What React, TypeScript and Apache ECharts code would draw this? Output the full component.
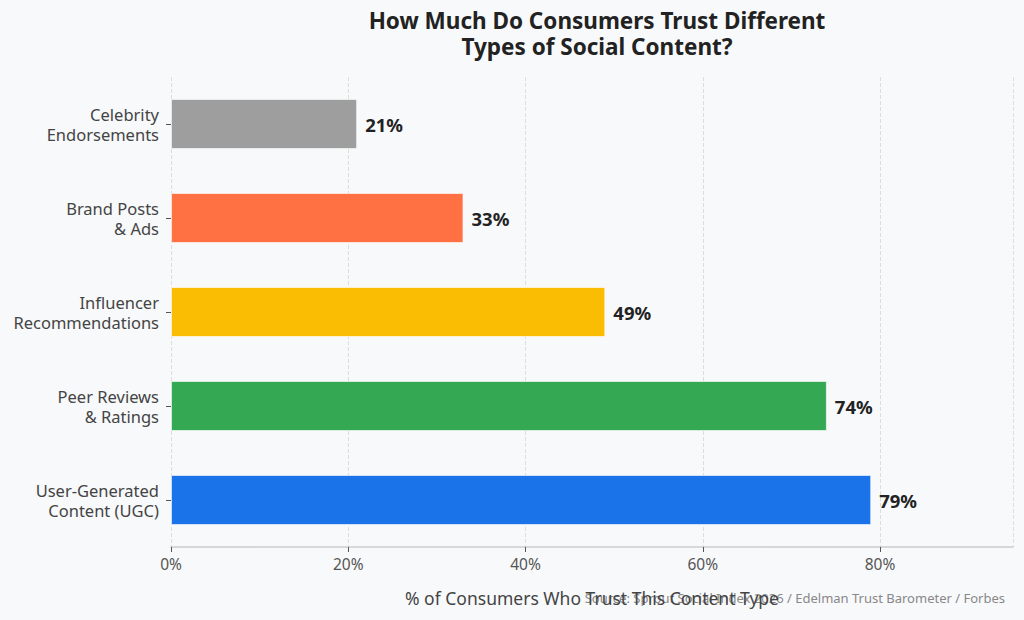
import { useEffect, useRef } from 'react';
import * as echarts from 'echarts';

const categories = [
  'User-Generated\nContent (UGC)',
  'Peer Reviews\n& Ratings',
  'Influencer\nRecommendations',
  'Brand Posts\n& Ads',
  'Celebrity\nEndorsements',
];
const trustValues = [79, 74, 49, 33, 21];
const barColors = ['#1a73e8', '#34a853', '#fbbc04', '#ff7043', '#9e9e9e'];
const xTicks = [0, 20, 40, 60, 80];

const FONT = '"Noto Sans", "Open Sans", sans-serif';

export default function App() {
  const ref = useRef<HTMLDivElement>(null);

  useEffect(() => {
    document.body.style.margin = '0';
    if (!ref.current) return;
    const chart = echarts.init(ref.current, undefined, { renderer: 'svg' });
    chart.setOption({
      animation: false,
      backgroundColor: '#f8f9fb',
      textStyle: { fontFamily: FONT },
      title: {
        text: 'How Much Do Consumers Trust Different\nTypes of Social Content?',
        left: 592,
        top: 2,
        textAlign: 'center',
        textStyle: {
          fontFamily: FONT,
          fontSize: 22.5,
          fontWeight: 'bold',
          color: '#222',
          lineHeight: 26,
        },
      },
      grid: { left: 171, right: 11, top: 77, bottom: 73 },
      xAxis: {
        type: 'value',
        min: 0,
        max: 95,
        interval: 20,
        name: '% of Consumers Who Trust This Content Type',
        nameLocation: 'middle',
        nameGap: 42,
        nameTextStyle: { fontFamily: FONT, fontSize: 17.5, color: '#444' },
        axisLine: { show: true, lineStyle: { color: '#cccccc', width: 1.5 } },
        axisTick: { show: true, length: 5, lineStyle: { color: '#555' } },
        axisLabel: {
          fontFamily: FONT,
          fontSize: 15.5,
          color: '#555',
          margin: 9,
          showMaxLabel: false,
          formatter: (v: number) => (xTicks.includes(v) ? `${v}%` : ''),
        },
        splitLine: { show: true, lineStyle: { color: '#dddddd', type: 'dashed' } },
      },
      yAxis: {
        type: 'category',
        data: categories,
        axisLine: { show: false },
        axisTick: { show: true, length: 5, alignWithLabel: true, lineStyle: { color: '#555' } },
        axisLabel: {
          fontFamily: FONT,
          fontSize: 16.5,
          color: '#444',
          margin: 12,
          lineHeight: 20,
          padding: [4, 0, 0, 0],
          align: 'right',
        },
      },
      series: [
        {
          type: 'bar',
          barWidth: 50,
          data: trustValues.map((v, i) => ({
            value: v,
            itemStyle: { color: barColors[i], borderColor: 'rgba(255,255,255,0.6)', borderWidth: 1 },
          })),
          label: {
            show: true,
            position: 'right',
            distance: 8,
            formatter: '{c}%',
            fontFamily: FONT,
            fontSize: 18.5,
            fontWeight: 'bold',
            color: '#222',
          },
        },
      ],
      graphic: [
        {
          type: 'text',
          right: 19,
          top: 591,
          style: {
            text: 'Source: Sprout Social Index 2026 / Edelman Trust Barometer / Forbes',
            fontFamily: FONT,
            fontSize: 13,
            fill: '#888',
          },
        },
      ],
    });
    return () => chart.dispose();
  }, []);

  return <div ref={ref} style={{ width: 1024, height: 620 }} />;
}
